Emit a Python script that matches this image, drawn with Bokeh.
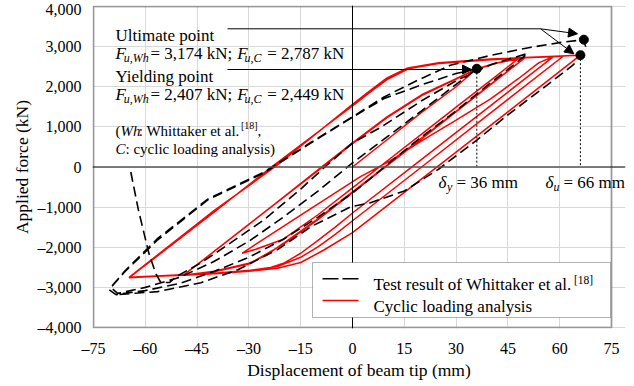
from bokeh.plotting import figure
from bokeh.models import (Range1d, FixedTicker, Span, Label, Arrow, NormalHead, BoxAnnotation)
from bokeh.embed import file_html
from bokeh.resources import INLINE

# ---------------- data ----------------
x_ticks = [-75, -60, -45, -30, -15, 0, 15, 30, 45, 60, 75]
x_tick_labels = ["\u201375", "\u201360", "\u201345", "\u201330", "\u201315", "0", "15", "30", "45", "60", "75"]
y_ticks = [-4000, -3000, -2000, -1000, 0, 1000, 2000, 3000, 4000]
y_tick_labels = ["\u20134,000", "\u20133,000", "\u20132,000", "\u20131,000", "0", "1,000", "2,000", "3,000", "4,000"]

series_names = ["Test result of Whittaker et al.", "Cyclic loading analysis"]

# Test result of Whittaker et al. (dashed black), traced branch by branch
test_x = [-64.2, -62.0, -59.0, -57.0, -55.5, -53.0,
          -51.0, -43.9, -35.3, -25.7, -15.0, -8.0, 0.0, 8.1, 20.0, 30.0, 40.0, 50.7,
          46.0, 40.0, 30.0, 20.0, 12.0, 5.0, 0.0, -10.0, -20.0, -30.0, -40.0, -50.0, -60.0, -68.5,
          -70.5, -66.2, -56.4, -41.9, -25.7, -12.1, 0.0, 9.0, 20.0, 30.0, 36.0,
          30.0, 20.0, 10.0, 0.0, -10.0, -20.0, -30.0, -40.0, -50.0, -60.0, -68.0,
          -70.0, -66.0, -56.4, -41.9, -25.7, -12.1, 0.0, 9.0, 18.8, 28.3, 39.9, 51.4, 60.0, 67.0,
          67.5, 66.0, 64.0, 55.0, 45.0, 36.0, 25.0, 15.0, 5.0, -0.6, -12.1, -21.7, -33.2, -43.9, -56.4, -68.5]
test_y = [-124, -1070, -2140, -2650, -2880, -2880,
          -2730, -2390, -1890, -1320, -550, 0, 600, 985, 1650, 2150, 2550, 2829,
          2500, 2100, 1400, 750, 200, -300, -650, -1250, -1800, -2250, -2600, -2900, -3080, -3180,
          -3057, -2634, -1814, -820, -149, 596, 1240, 1700, 2050, 2330, 2449,
          2060, 1400, 750, 100, -600, -1250, -1850, -2350, -2750, -3000, -3150,
          -3000, -2600, -1780, -800, -130, 610, 1250, 1740, 2160, 2535, 2780, 2980, 3100, 3174,
          3000, 2787, 2550, 1950, 1300, 670, -50, -600, -895, -994, -1490, -2060, -2560, -2883, -3106, -3180]

# Cyclic loading analysis (red), traced branch by branch
ana_x = [0.0, 10.0, 20.0, 30.0, 36.0, 42.0, 50.0,
         40.0, 30.0, 20.0, 9.3, 0.0, -10.0, -20.0, -25.0, -30.0, -40.0, -49.0,
         -30.0, -9.0, 0.0, 10.0, 20.0, 30.0, 36.0, 42.0, 50.0,
         40.0, 20.0, 0.0, -10.0, -20.0, -30.0, -40.0, -49.0,
         -9.0, 0.0, 10.0, 20.0, 30.0, 36.0, 42.0, 48.0,
         40.0, 30.0, 20.0, 10.0, 0.0, -10.0, -20.0, -28.0, -32.0,
         -15.0, 2.3, 11.0, 20.0, 30.0, 40.0, 48.0, 54.0, 58.0,
         40.0, 20.0, 0.0, -5.0, -10.0, -15.0, -20.0, -25.0, -40.0, -64.7,
         -40.0, -23.0, 0.0, 5.0, 10.0, 16.0, 25.0, 40.0, 50.0, 61.0,
         40.0, 20.0, 0.0, -5.0, -10.0, -15.0, -21.7, -30.0, -40.0, -64.7,
         -40.0, -23.5, 0.0, 5.0, 10.0, 16.0, 25.0, 40.0, 55.0, 66.0,
         50.0, 30.0, 0.0, -8.4, -15.0, -21.7, -30.0, -40.0, -49.0, -64.7,
         -40.0, -22.5, 0.0, 5.0, 10.0, 16.0, 25.0, 40.0, 55.0, 64.0]
ana_y = [0, 680, 1360, 2000, 2449, 2600, 2725,
         2060, 1390, 720, 0, -620, -1290, -1900, -2200, -2400, -2600, -2700,
         -1430, 0, 600, 1250, 1800, 2200, 2449, 2600, 2725,
         2050, 700, -640, -1310, -1920, -2420, -2610, -2700,
         -20, 580, 1230, 1780, 2190, 2440, 2590, 2700,
         2160, 1490, 820, 150, -520, -1190, -1800, -2050, -2150,
         -1200, -240, 160, 650, 1170, 1700, 2200, 2600, 2740,
         1530, 190, -1146, -1500, -1830, -2150, -2400, -2540, -2650, -2750,
         -1100, 0, 1540, 1880, 2200, 2450, 2580, 2670, 2720, 2760,
         1350, 0, -1340, -1680, -1990, -2250, -2480, -2580, -2650, -2760,
         -1120, 0, 1520, 1860, 2180, 2440, 2590, 2680, 2750, 2787,
         1710, 370, -1635, -2075, -2380, -2525, -2600, -2660, -2700, -2750,
         -1080, 0, 1560, 1900, 2220, 2470, 2600, 2690, 2750, 2780]

# key points: yielding (delta_y) and ultimate (delta_u)
key_x = [36, 67, 66]
key_y = [2449, 3174, 2787]

# ---------------- figure ----------------
FONT = "Liberation Serif"
PXX = 518 / 150.0      # px per mm
PXY = 321 / 8000.0     # px per kN
p = figure(width=634, height=386,
           x_range=Range1d(-75 - 1 / PXX, 75 + 14 / PXX),
           y_range=Range1d(-4000 - 1 / PXY, 4000 + 1 / PXY),
           output_backend="svg", toolbar_location=None,
           min_border_left=92, min_border_right=9, min_border_top=5, min_border_bottom=58)
p.background_fill_color = "white"
p.border_fill_color = "white"
p.outline_line_color = None

p.xaxis.ticker = FixedTicker(ticks=x_ticks)
p.yaxis.ticker = FixedTicker(ticks=y_ticks)
p.xaxis.major_label_overrides = dict(zip(x_ticks, x_tick_labels))
p.yaxis.major_label_overrides = dict(zip(y_ticks, y_tick_labels))
for ax in (p.xaxis, p.yaxis):
    ax.axis_line_color = None
    ax.major_tick_line_color = None
    ax.minor_tick_line_color = None
    ax.major_tick_out = 0
    ax.major_tick_in = 0
    ax.minor_tick_out = 0
    ax.minor_tick_in = 0
    ax.major_label_text_font = FONT
    ax.major_label_text_font_size = "16px"
    ax.major_label_text_color = "black"
    ax.axis_label_text_font = FONT
    ax.axis_label_text_font_size = "17.5px"
    ax.axis_label_text_font_style = "normal"
    ax.axis_label_text_color = "black"
p.xaxis.axis_label = "Displacement of beam tip (mm)"
p.yaxis.axis_label = "Applied force (kN)"
p.xaxis.major_label_standoff = 11
p.yaxis.major_label_standoff = 11
p.xaxis.axis_label_standoff = 0
p.yaxis.axis_label_standoff = 3

p.xgrid.grid_line_color = "#d9d9d9"
p.ygrid.grid_line_color = "#d9d9d9"
p.xgrid.grid_line_width = 1
p.ygrid.grid_line_width = 1

p.add_layout(Span(location=0, dimension="width", line_color="#555555", line_width=1.5))
p.add_layout(Span(location=0, dimension="height", line_color="black", line_width=1))

# curves
p.line(ana_x, ana_y, line_color="#ff0000", line_width=1.5)
p.line(test_x, test_y, line_color="black", line_width=1.6, line_dash="10 5")

# dotted drops from key points
p.segment(x0=[key_x[0], key_x[2]], y0=[key_y[0], key_y[2]], x1=[key_x[0], key_x[2]], y1=[0, 0],
          line_color="black", line_width=1, line_dash="2 2")
p.scatter(key_x, key_y, size=9, color="black")

# plot frame (drawn inside a slightly larger data area so texts may overhang it)
p.add_layout(BoxAnnotation(left=-75, right=75, bottom=-4000, top=4000, fill_alpha=0,
                           line_color="black", line_width=2))


def px2x(px):
    return (px - 352) / PXX


def py2y(py):
    return (166.5 - py) / PXY


def lab(px, py, text, size="17px", style="normal"):
    p.add_layout(Label(x=px2x(px), y=py2y(py), text=text, text_font=FONT, text_font_size=size,
                       text_font_style=style, text_color="black", text_baseline="alphabetic",
                       text_align="left", level="overlay"))


# legend (box, keys and texts)
p.add_layout(BoxAnnotation(left=px2x(312), right=px2x(610), top=py2y(262), bottom=py2y(317),
                           fill_color="white", fill_alpha=1, line_color="black", line_width=1))
p.segment(x0=[px2x(322)], y0=[py2y(278.3)], x1=[px2x(358)], y1=[py2y(278.3)],
          line_color="black", line_width=1.6, line_dash="16 4", level="overlay")
p.segment(x0=[px2x(322)], y0=[py2y(300)], x1=[px2x(358)], y1=[py2y(300)],
          line_color="#ff0000", line_width=1.6, level="overlay")
lab(373, 284.3, series_names[0], size="17px")
lab(573.5, 279.5, "[18]", size="11.5px")
lab(373, 305.7, series_names[1], size="17px")

# annotation texts
lab(115, 35, "Ultimate point")
lab(115, 53.3, "F", style="italic")
lab(123.3, 57.5, "u,Wh", size="12px", style="italic")
lab(150, 53.3, "= 3,174 kN;")
lab(236.7, 53.3, "F", style="italic")
lab(244, 57.5, "u,C", size="12px", style="italic")
lab(266.7, 53.3, "= 2,787 kN")
lab(115, 76, "Yielding point")
lab(115, 94.3, "F", style="italic")
lab(123.3, 98.5, "u,Wh", size="12px", style="italic")
lab(150, 94.3, "= 2,407 kN;")
lab(236.7, 94.3, "F", style="italic")
lab(244, 98.5, "u,C", size="12px", style="italic")
lab(266.7, 94.3, "= 2,449 kN")
lab(115, 130.7, "(", size="15px")
lab(120, 130.7, "Wh", size="15px", style="italic")
lab(138.3, 130.7, ": Whittaker et al.", size="15px")
lab(240.5, 125, "[18]", size="10px")
lab(257, 130.7, ",", size="15px")
lab(115, 148.3, "C", size="15px", style="italic")
lab(125, 148.3, ": cyclic loading analysis)", size="15px")
# delta labels
lab(438, 181.7, "\u03b4", style="italic")
lab(446.5, 186.5, "y", size="12px", style="italic")
lab(456, 181.7, "= 36 mm")
lab(545, 181.7, "\u03b4", style="italic")
lab(553, 186.5, "u", size="12px", style="italic")
lab(563, 181.7, "= 66 mm")

# leader lines and arrows
p.segment(x0=[px2x(227), px2x(227)], y0=[py2y(28.3), py2y(69)], x1=[px2x(540), px2x(470)],
          y1=[py2y(28.3), py2y(69)], line_color="black", line_width=1)
for (x0, y0, x1, y1) in [(540, 28.3, 577, 33.3), (540, 28.3, 573.3, 53.3), (460, 69, 471, 69)]:
    p.add_layout(Arrow(end=NormalHead(size=9, fill_color="black", line_color="black"),
                       x_start=px2x(x0), y_start=py2y(y0), x_end=px2x(x1), y_end=py2y(y1),
                       line_color="black", line_width=1))

open("out.html", "w").write(file_html(p, INLINE))
